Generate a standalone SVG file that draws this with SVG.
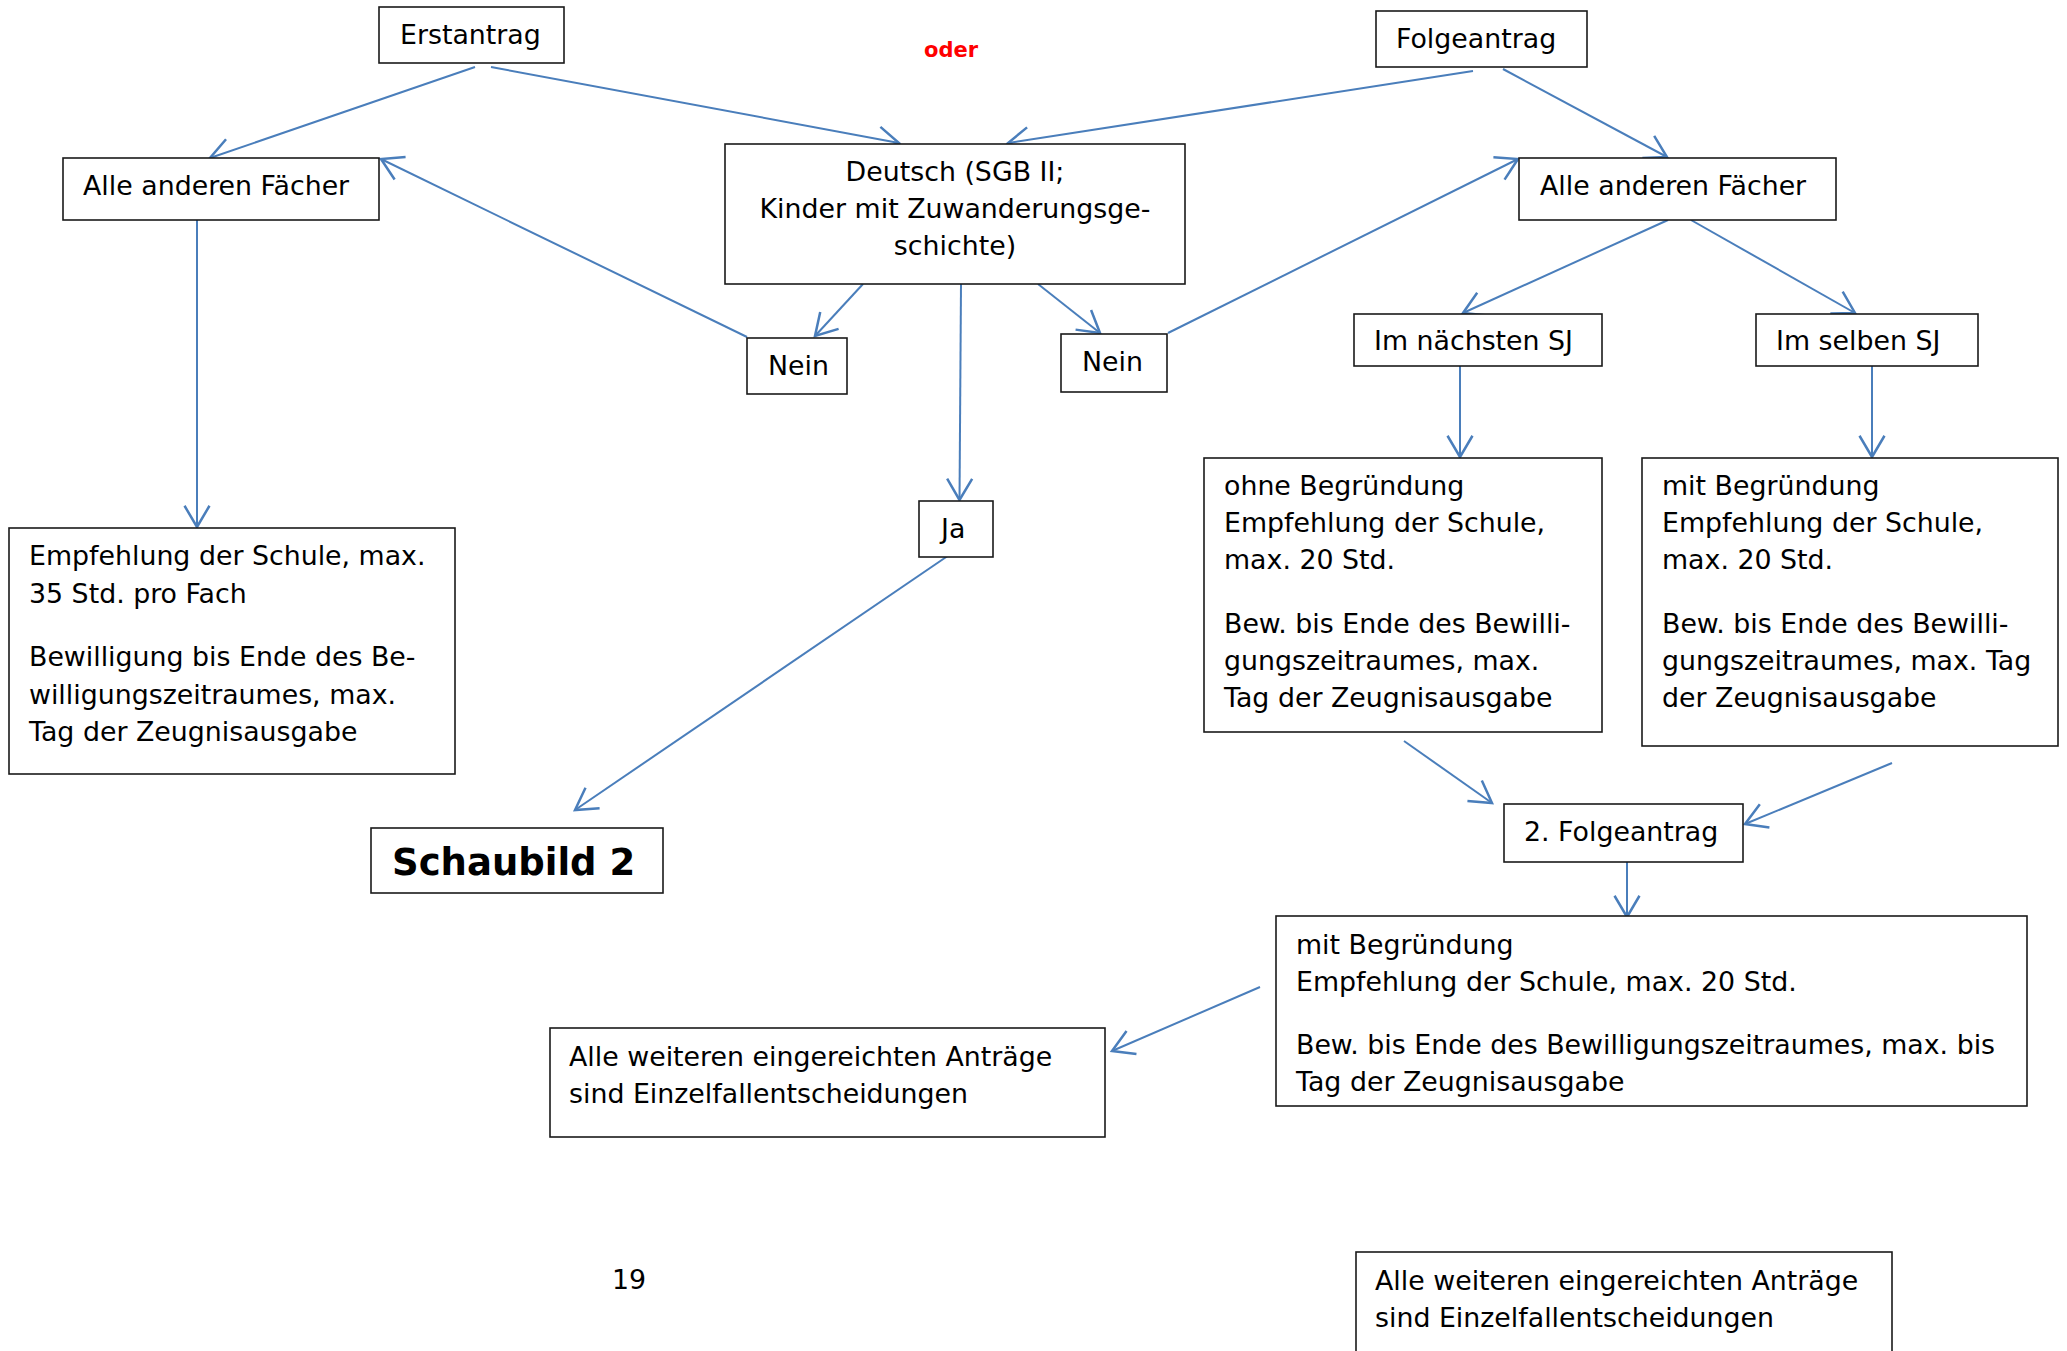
<svg xmlns="http://www.w3.org/2000/svg" width="2067" height="1351" viewBox="0 0 2067 1351">
<defs>
<style>
.box{fill:#fff;stroke:#1a1a1a;stroke-width:1.6}
.t{font-family:"DejaVu Sans",Verdana,sans-serif;font-size:26.8px;fill:#000}
.c{text-anchor:middle}
.b{font-weight:bold}
.red{font-family:"DejaVu Sans",Verdana,sans-serif;font-size:21px;font-weight:bold;fill:#ff0000}
.e{fill:none;stroke:#4a7ebb;stroke-width:2;marker-end:url(#ah)}
</style>
<marker id="ah" markerUnits="userSpaceOnUse" markerWidth="30" markerHeight="30" viewBox="-20 -12 24 24" refX="0" refY="0" orient="auto">
<path d="M-17,-10 L0,0 L-17,10" fill="none" stroke="#4a7ebb" stroke-width="2"/>
</marker>
</defs>
<rect width="2067" height="1351" fill="#fff"/>

<g id="connectors">
<line class="e" x1="475" y1="67" x2="210" y2="158"/>
<line class="e" x1="491" y1="67" x2="899" y2="143"/>
<line class="e" x1="1473" y1="71" x2="1008" y2="143"/>
<line class="e" x1="1503" y1="69" x2="1667" y2="157"/>
<line class="e" x1="197" y1="220" x2="197" y2="527"/>
<line class="e" x1="747" y1="337" x2="381" y2="159"/>
<line class="e" x1="863" y1="284" x2="815" y2="336"/>
<line class="e" x1="961" y1="284" x2="959.5" y2="500"/>
<line class="e" x1="1038" y1="284" x2="1100" y2="333"/>
<line class="e" x1="1168" y1="333" x2="1518" y2="159"/>
<line class="e" x1="955" y1="551" x2="575" y2="810"/>
<line class="e" x1="1668" y1="220" x2="1463" y2="313"/>
<line class="e" x1="1691" y1="220" x2="1855" y2="313"/>
<line class="e" x1="1460" y1="366" x2="1460" y2="457"/>
<line class="e" x1="1872" y1="366" x2="1872" y2="457"/>
<line class="e" x1="1404" y1="741" x2="1492" y2="803"/>
<line class="e" x1="1892" y1="763" x2="1745" y2="824"/>
<line class="e" x1="1627" y1="862" x2="1627" y2="917"/>
<line class="e" x1="1260" y1="987" x2="1112" y2="1051"/>
</g>

<g id="oder"><text class="red" x="924" y="57">oder</text></g>

<g id="erstantrag">
<rect class="box" x="379" y="7" width="185" height="56"/>
<text class="t" x="400" y="44">Erstantrag</text>
</g>

<g id="folgeantrag">
<rect class="box" x="1376" y="11" width="211" height="56"/>
<text class="t" x="1396" y="48">Folgeantrag</text>
</g>

<g id="faecher-links">
<rect class="box" x="63" y="158" width="316" height="62"/>
<text class="t" x="83" y="195">Alle anderen Fächer</text>
</g>

<g id="deutsch">
<rect class="box" x="725" y="144" width="460" height="140"/>
<text class="t c" x="955" y="181">Deutsch (SGB II;</text>
<text class="t c" x="955" y="218">Kinder mit Zuwanderungsge-</text>
<text class="t c" x="955" y="255">schichte)</text>
</g>

<g id="faecher-rechts">
<rect class="box" x="1519" y="158" width="317" height="62"/>
<text class="t" x="1540" y="195">Alle anderen Fächer</text>
</g>

<g id="nein-links">
<rect class="box" x="747" y="338" width="100" height="56"/>
<text class="t" x="768" y="375">Nein</text>
</g>

<g id="nein-rechts">
<rect class="box" x="1061" y="334" width="106" height="58"/>
<text class="t" x="1082" y="371">Nein</text>
</g>

<g id="ja">
<rect class="box" x="919" y="501" width="74" height="56"/>
<text class="t" x="941" y="538">Ja</text>
</g>

<g id="empfehlung-links">
<rect class="box" x="9" y="528" width="446" height="246"/>
<text class="t" x="29" y="565">Empfehlung der Schule, max.</text>
<text class="t" x="29" y="603">35 Std. pro Fach</text>
<text class="t" x="29" y="666">Bewilligung bis Ende des Be-</text>
<text class="t" x="29" y="704">willigungszeitraumes, max.</text>
<text class="t" x="29" y="741">Tag der Zeugnisausgabe</text>
</g>

<g id="schaubild">
<rect class="box" x="371" y="828" width="292" height="65"/>
<text class="t b" x="392" y="875" style="font-size:37px">Schaubild 2</text>
</g>

<g id="naechstes-sj">
<rect class="box" x="1354" y="314" width="248" height="52"/>
<text class="t" x="1374" y="350">Im nächsten SJ</text>
</g>

<g id="selbes-sj">
<rect class="box" x="1756" y="314" width="222" height="52"/>
<text class="t" x="1776" y="350">Im selben SJ</text>
</g>

<g id="ohne-begruendung">
<rect class="box" x="1204" y="458" width="398" height="274"/>
<text class="t" x="1224" y="495">ohne Begründung</text>
<text class="t" x="1224" y="532">Empfehlung der Schule,</text>
<text class="t" x="1224" y="569">max. 20 Std.</text>
<text class="t" x="1224" y="633">Bew. bis Ende des Bewilli-</text>
<text class="t" x="1224" y="670">gungszeitraumes, max.</text>
<text class="t" x="1224" y="707">Tag der Zeugnisausgabe</text>
</g>

<g id="mit-begruendung">
<rect class="box" x="1642" y="458" width="416" height="288"/>
<text class="t" x="1662" y="495">mit Begründung</text>
<text class="t" x="1662" y="532">Empfehlung der Schule,</text>
<text class="t" x="1662" y="569">max. 20 Std.</text>
<text class="t" x="1662" y="633">Bew. bis Ende des Bewilli-</text>
<text class="t" x="1662" y="670">gungszeitraumes, max. Tag</text>
<text class="t" x="1662" y="707">der Zeugnisausgabe</text>
</g>

<g id="folgeantrag-2">
<rect class="box" x="1504" y="804" width="239" height="58"/>
<text class="t" x="1524" y="841">2. Folgeantrag</text>
</g>

<g id="mit-begruendung-2">
<rect class="box" x="1276" y="916" width="751" height="190"/>
<text class="t" x="1296" y="954">mit Begründung</text>
<text class="t" x="1296" y="991">Empfehlung der Schule, max. 20 Std.</text>
<text class="t" x="1296" y="1054">Bew. bis Ende des Bewilligungszeitraumes, max. bis</text>
<text class="t" x="1296" y="1091">Tag der Zeugnisausgabe</text>
</g>

<g id="weitere-antraege">
<rect class="box" x="550" y="1028" width="555" height="109"/>
<text class="t" x="569" y="1066">Alle weiteren eingereichten Anträge</text>
<text class="t" x="569" y="1103">sind Einzelfallentscheidungen</text>
</g>

<g id="seitenzahl"><text class="t" x="612" y="1289">19</text></g>

<g id="weitere-antraege-2">
<rect class="box" x="1356" y="1252" width="536" height="160"/>
<text class="t" x="1375" y="1290">Alle weiteren eingereichten Anträge</text>
<text class="t" x="1375" y="1327">sind Einzelfallentscheidungen</text>
</g>
</svg>
